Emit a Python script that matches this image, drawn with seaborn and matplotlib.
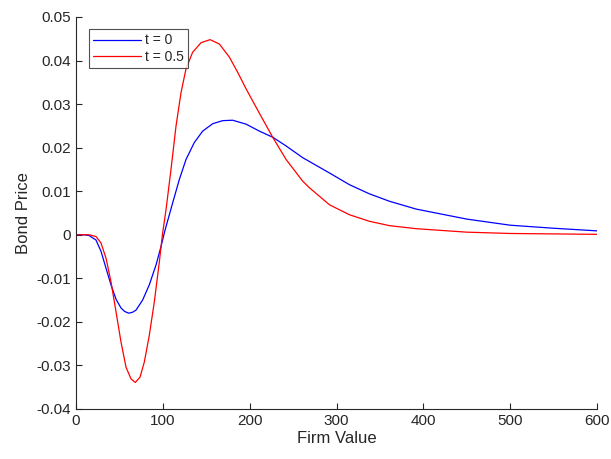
import numpy as np
import pandas as pd
import matplotlib
matplotlib.use("Agg")
import matplotlib.pyplot as plt
import seaborn as sns

# values
x_t0 = [0, 10, 15.3, 23, 28.8, 34.6, 40.3, 46.1, 51.8, 56, 60.6, 65, 69.1,
        76.7, 84.4, 92.2, 97.9, 101.7, 103.7, 111.3, 119, 126.7, 136.3,
        145.9, 157.4, 168.9, 180.4, 195.9, 211.2, 226.5, 241.9, 261.1,
        291.8, 314.9, 337.9, 360.9, 391.7, 450, 500, 550, 600]
y_t0 = [0.0, 0.0, -0.0002, -0.0012, -0.0038, -0.0077, -0.0115, -0.0148,
        -0.0168, -0.0176, -0.0180, -0.0178, -0.0173, -0.0150, -0.0115,
        -0.0069, -0.0027, 0.0004, 0.0019, 0.0073, 0.0127, 0.0173, 0.0212,
        0.0238, 0.0255, 0.0262, 0.0263, 0.0254, 0.0238, 0.0224, 0.0204,
        0.0177, 0.0142, 0.0115, 0.0094, 0.0077, 0.0059, 0.0036, 0.0022,
        0.0015, 0.0009]

x_t05 = [0, 15.3, 23, 28.8, 34.6, 40.3, 46.1, 51.8, 57.6, 63.4, 68.3, 73.7,
         78.7, 84.4, 90.2, 96, 99.5, 103.7, 109.4, 115.2, 121, 126.7, 134.3,
         144, 154.4, 165.1, 176.6, 186.2, 195.9, 211.2, 226.5, 241.9, 261.1,
         268.8, 291.8, 314.9, 337.9, 360.9, 391.7, 450, 500, 550, 600]
y_t05 = [0.0, 0.0, -0.0004, -0.0019, -0.0054, -0.0108, -0.0177, -0.0246,
         -0.0304, -0.0331, -0.0339, -0.0327, -0.0292, -0.0231, -0.0154,
         -0.0062, 0.0, 0.0058, 0.0150, 0.0250, 0.0327, 0.0381, 0.0419,
         0.0441, 0.0448, 0.0438, 0.0408, 0.0373, 0.0335, 0.0279, 0.0224,
         0.0173, 0.0123, 0.0108, 0.0069, 0.0046, 0.0031, 0.0021, 0.0014,
         0.0006, 0.0003, 0.0002, 0.0001]

x_ticks = [0, 100, 200, 300, 400, 500, 600]
y_ticks = [-0.04, -0.03, -0.02, -0.01, 0, 0.01, 0.02, 0.03, 0.04, 0.05]
y_labels = ['-0.04', '-0.03', '-0.02', '-0.01', '0', '0.01', '0.02',
            '0.03', '0.04', '0.05']

sns.set_style("ticks")
plt.rcParams['font.family'] = ['Liberation Sans', 'DejaVu Sans']

fig = plt.figure(figsize=(6.11, 4.59), dpi=100)
ax = fig.add_axes([76 / 611, 1 - 409 / 459, 521 / 611, 392 / 459])

sns.lineplot(x=x_t0, y=y_t0, color='blue', linewidth=0.9, label='t = 0',
             estimator=None, sort=False, ax=ax)
sns.lineplot(x=x_t05, y=y_t05, color='red', linewidth=0.9, label='t = 0.5',
             estimator=None, sort=False, ax=ax)

ax.set_xlim(0, 600)
ax.set_ylim(-0.04, 0.05)
ax.set_xticks(x_ticks)
ax.set_yticks(y_ticks)
ax.set_yticklabels(y_labels)
ax.set_xlabel('Firm Value', fontsize=12, color='#262626', labelpad=2)
ax.set_ylabel('Bond Price', fontsize=12, color='#262626', labelpad=4)
ax.tick_params(direction='in', length=4, width=0.8, colors='#262626',
               labelsize=11, labelcolor='#262626')
sns.despine(ax=ax)
for s in ['left', 'bottom']:
    ax.spines[s].set_color('#262626')
    ax.spines[s].set_linewidth(0.8)

leg = ax.legend(loc='upper left', bbox_to_anchor=(0.0255, 0.9686),
                fontsize=10, frameon=True, fancybox=False, handlelength=3.4,
                borderpad=0.3, labelspacing=0.2, handletextpad=0.3,
                borderaxespad=0)
leg.get_frame().set_edgecolor('#262626')
leg.get_frame().set_linewidth(0.8)

fig.savefig('out.png', dpi=100)
